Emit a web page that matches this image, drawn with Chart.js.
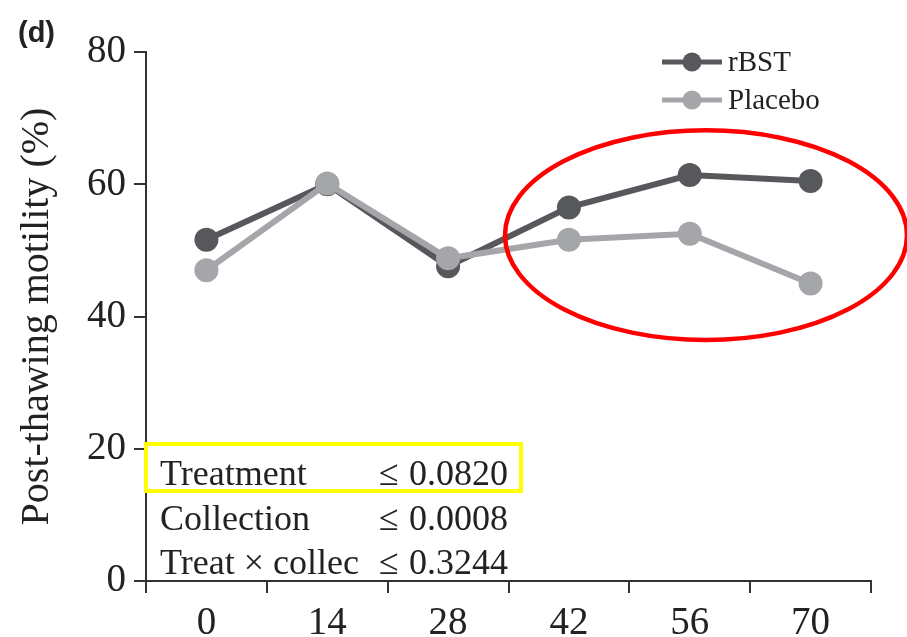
<!DOCTYPE html>
<html>
<head>
<meta charset="utf-8">
<script src="https://cdn.jsdelivr.net/npm/chart.js@4/dist/chart.umd.min.js"></script>
<style>
  html, body { margin: 0; padding: 0; background: #ffffff; }
  #wrap { width: 907px; height: 637px; position: relative; }
</style>
</head>
<body>
<div id="wrap"><canvas id="c" width="907" height="637"></canvas></div>
<script>
// Collection day (days after first treatment)
const days = ['0', '14', '28', '42', '56', '70'];
// Post-thawing motility (%) per group
const rbst = [51.6, 60.0, 47.6, 56.5, 61.4, 60.5];
const placebo = [47.0, 60.1, 48.8, 51.6, 52.5, 45.0];
const yTicks = [0, 20, 40, 60, 80];
// Statistical summary shown at the bottom of the panel
const statLabels = ['Treatment', 'Collection', 'Treat \u00d7 collec'];
const statValues = ['0.0820', '0.0008', '0.3244'];

const DARK = '#56585c';
const LIGHT = '#a4a6a9';
const AXIS = '#333333';
const SERIF = '"Liberation Serif", "Times New Roman", serif';

const overlay = {
  id: 'overlay',
  afterDatasetsDraw(chart) {
    const { ctx, scales } = chart;
    const y = scales.y;
    ctx.save();

    // Panel letter
    ctx.fillStyle = '#222';
    ctx.font = 'bold 29px "Liberation Sans", Arial, sans-serif';
    ctx.textAlign = 'left';
    ctx.textBaseline = 'middle';
    ctx.fillText('(d)', 18, 34);

    // Legend
    const items = [['rBST', DARK, 62], ['Placebo', LIGHT, 100]];
    items.forEach(([name, col, ly]) => {
      ctx.strokeStyle = col;
      ctx.lineWidth = 5;
      ctx.beginPath();
      ctx.moveTo(662, ly);
      ctx.lineTo(722, ly);
      ctx.stroke();
      ctx.fillStyle = col;
      ctx.beginPath();
      ctx.arc(692, ly, 9.5, 0, Math.PI * 2);
      ctx.fill();
      ctx.fillStyle = '#222';
      ctx.font = '29px ' + SERIF;
      ctx.textBaseline = 'middle';
      ctx.fillText(name, 728, ly + 1);
    });

    // Statistics text
    ctx.font = '36px ' + SERIF;
    ctx.textBaseline = 'alphabetic';
    ctx.fillStyle = '#222';
    const base = [485, 530, 574];
    statLabels.forEach((t, i) => {
      ctx.fillText(t, 160, base[i]);
      ctx.fillText('\u2264', 379, base[i]);
      ctx.fillText(statValues[i], 409, base[i]);
    });

    // Highlight box around the treatment effect
    ctx.strokeStyle = '#ffff00';
    ctx.lineWidth = 4;
    ctx.strokeRect(146, 444, 375, 47);

    // Ellipse around the late collections
    const cx = 706, cy = y.getPixelForValue(52.3);
    const ry = (y.getPixelForValue(36.5) - y.getPixelForValue(68.2)) / 2;
    ctx.strokeStyle = '#ff0000';
    ctx.lineWidth = 4.5;
    ctx.beginPath();
    ctx.ellipse(cx, cy, 201, ry, 0, 0, Math.PI * 2);
    ctx.stroke();

    ctx.restore();
  }
};

new Chart(document.getElementById('c'), {
  type: 'line',
  data: {
    labels: days,
    datasets: [
      {
        label: 'rBST', data: rbst, order: 1,
        borderColor: DARK, backgroundColor: DARK,
        borderWidth: 6, pointRadius: 12, pointHoverRadius: 12,
        pointBackgroundColor: DARK, pointBorderWidth: 0, tension: 0
      },
      {
        label: 'Placebo', data: placebo, order: 0,
        borderColor: LIGHT, backgroundColor: LIGHT,
        borderWidth: 6, pointRadius: 12, pointHoverRadius: 12,
        pointBackgroundColor: LIGHT, pointBorderWidth: 0, tension: 0
      }
    ]
  },
  options: {
    responsive: false,
    animation: false,
    events: [],
    layout: { padding: { top: 52, right: 36, left: 0, bottom: 0 } },
    plugins: { legend: { display: false }, tooltip: { enabled: false } },
    scales: {
      x: {
        type: 'category',
        offset: true,
        grid: { offset: true, drawOnChartArea: false, color: AXIS, lineWidth: 2, tickLength: 12 },
        border: { color: AXIS, width: 2 },
        ticks: { color: '#222', font: { family: SERIF, size: 39 }, padding: 7, maxRotation: 0 },
        afterFit(s) { s.height = 56; }
      },
      y: {
        min: 0, max: 80,
        afterBuildTicks(s) { s.ticks = yTicks.map(v => ({ value: v })); },
        grid: { drawOnChartArea: false, color: AXIS, lineWidth: 2, tickLength: 12 },
        border: { color: AXIS, width: 2 },
        ticks: { color: '#222', font: { family: SERIF, size: 39 }, padding: 8 },
        title: {
          display: true, text: 'Post-thawing motility (%)', color: '#222',
          font: { family: SERIF, size: 40 }, padding: { top: 13, bottom: 0 }
        },
        afterFit(s) { s.width = 146; }
      }
    }
  },
  plugins: [overlay]
});
</script>
</body>
</html>
